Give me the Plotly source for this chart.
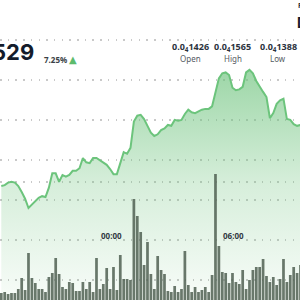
import plotly.graph_objects as go

# price in units of 1e-8 (0.0₄xxxx)
price = [1426, 1427, 1430, 1431, 1430, 1426, 1419, 1411, 1400, 1404,
         1408, 1412, 1414, 1413, 1424, 1441, 1441, 1431, 1439, 1437,
         1439, 1444, 1444, 1447, 1459, 1454, 1453, 1459, 1459, 1456,
         1453, 1451, 1446, 1440, 1440, 1452, 1466, 1464, 1471, 1502,
         1509, 1510, 1505, 1497, 1489, 1485, 1487, 1492, 1494, 1498,
         1497, 1504, 1503, 1504, 1511, 1516, 1513, 1512, 1514, 1516,
         1517, 1517, 1520, 1537, 1553, 1559, 1560, 1557, 1542, 1539,
         1540, 1543, 1560, 1563, 1559, 1550, 1543, 1537, 1531, 1506,
         1512, 1523, 1527, 1529, 1505, 1504, 1499, 1497, 1498]

volume = [7, 8, 6, 7, 7, 11, 22, 10, 47, 22,
          17, 11, 11, 8, 23, 27, 42, 26, 13, 11,
          18, 17, 9, 9, 18, 11, 18, 8, 42, 11,
          16, 32, 11, 33, 10, 45, 21, 21, 20, 101,
          84, 68, 35, 58, 26, 11, 44, 30, 26, 9,
          8, 14, 8, 11, 49, 15, 8, 13, 8, 10,
          13, 8, 25, 126, 54, 28, 27, 17, 27, 18,
          16, 30, 11, 20, 30, 33, 33, 41, 24, 18,
          23, 15, 21, 41, 18, 25, 33, 27, 35]

idx = list(range(len(price)))
time_ticks = [32.3, 68.4]
time_labels = ["00:00", "06:00"]

stats_vals = ["0.0<sub>4</sub>1426", "0.0<sub>4</sub>1565", "0.0<sub>4</sub>1388"]
stats_names = ["Open", "High", "Low"]
current_price = "529"
change_pct = "7.25%"

fig = go.Figure()
fig.add_trace(go.Scatter(
    x=idx, y=price, mode="lines",
    line=dict(color="#6cc47c", width=2),
    fill="tozeroy",
    fillgradient=dict(type="vertical", start=1291.5, stop=1565,
                      colorscale=[[0, "rgba(110,195,125,0.05)"],
                                  [0.5, "rgba(110,195,125,0.28)"],
                                  [1, "rgba(110,195,125,0.68)"]]),
    hoverinfo="skip", yaxis="y"))
fig.add_trace(go.Bar(
    x=idx, y=volume, marker=dict(color="rgba(80,96,82,0.85)", line=dict(width=0)),
    yaxis="y2", hoverinfo="skip"))

dots = "1.5px,6.2px"
fig.update_layout(
    width=300, height=300, margin=dict(l=0, r=0, t=0, b=0),
    paper_bgcolor="white", plot_bgcolor="white", showlegend=False,
    bargap=0.2,
    xaxis=dict(range=[-0.38, 87.86], visible=False, showgrid=False, zeroline=False),
    yaxis=dict(range=[1291.48, 1645.48], showticklabels=False, zeroline=False,
               showgrid=True, gridcolor="#c9c9c9", gridwidth=1.5, griddash=dots,
               tick0=1362.3, dtick=47.2, ticks=""),
    yaxis2=dict(range=[0, 300], overlaying="y", showticklabels=False, zeroline=False,
                showgrid=True, gridcolor="#c9c9c9", gridwidth=1.5, griddash=dots,
                tickvals=[118], ticks=""),
)

ann = []
ann.append(dict(x=36/300, y=1-52/300, xref="paper", yref="paper", xanchor="right", yanchor="middle",
                text="<b>" + current_price + "</b>", showarrow=False,
                font=dict(family="Inter, Noto Sans", size=22, color="#141c2b")))
ann.append(dict(x=42/300, y=1-59/300, xref="paper", yref="paper", xanchor="left", yanchor="middle",
                text="<b>" + change_pct + "</b>", showarrow=False,
                font=dict(family="Noto Sans", size=8, color="#3a3f47")))
ann.append(dict(x=73/300, y=1-59/300, xref="paper", yref="paper", xanchor="center", yanchor="middle",
                text="▲", showarrow=False,
                font=dict(family="DejaVu Sans", size=10, color="#5dbb6d")))
for cx, v, n in zip([190, 233, 278], stats_vals, stats_names):
    ann.append(dict(x=cx/300, y=1-47/300, xref="paper", yref="paper", xanchor="center", yanchor="middle",
                    text="<b>" + v + "</b>", showarrow=False,
                    font=dict(family="Noto Sans", size=9, color="#2b323d")))
    ann.append(dict(x=cx/300, y=1-58.5/300, xref="paper", yref="paper", xanchor="center", yanchor="middle",
                    text=n, showarrow=False,
                    font=dict(family="Noto Sans", size=8, color="#555b63")))
ann.append(dict(x=296/300, y=1-5/300, xref="paper", yref="paper", xanchor="left", yanchor="middle",
                text="<b>P</b>", showarrow=False,
                font=dict(family="Noto Sans", size=7, color="#2b323d")))
ann.append(dict(x=295/300, y=1-22/300, xref="paper", yref="paper", xanchor="left", yanchor="middle",
                text="<b>D</b>", showarrow=False,
                font=dict(family="Inter", size=14, color="#141c2b")))
for t, lab in zip(time_ticks, time_labels):
    ann.append(dict(x=t, y=1-235/300, xref="x", yref="paper", xanchor="center", yanchor="middle",
                    text="<b>" + lab + "</b>", showarrow=False,
                    font=dict(family="Noto Sans", size=8, color="#333a44")))
fig.update_layout(annotations=ann)

fig.write_html("out.html")
